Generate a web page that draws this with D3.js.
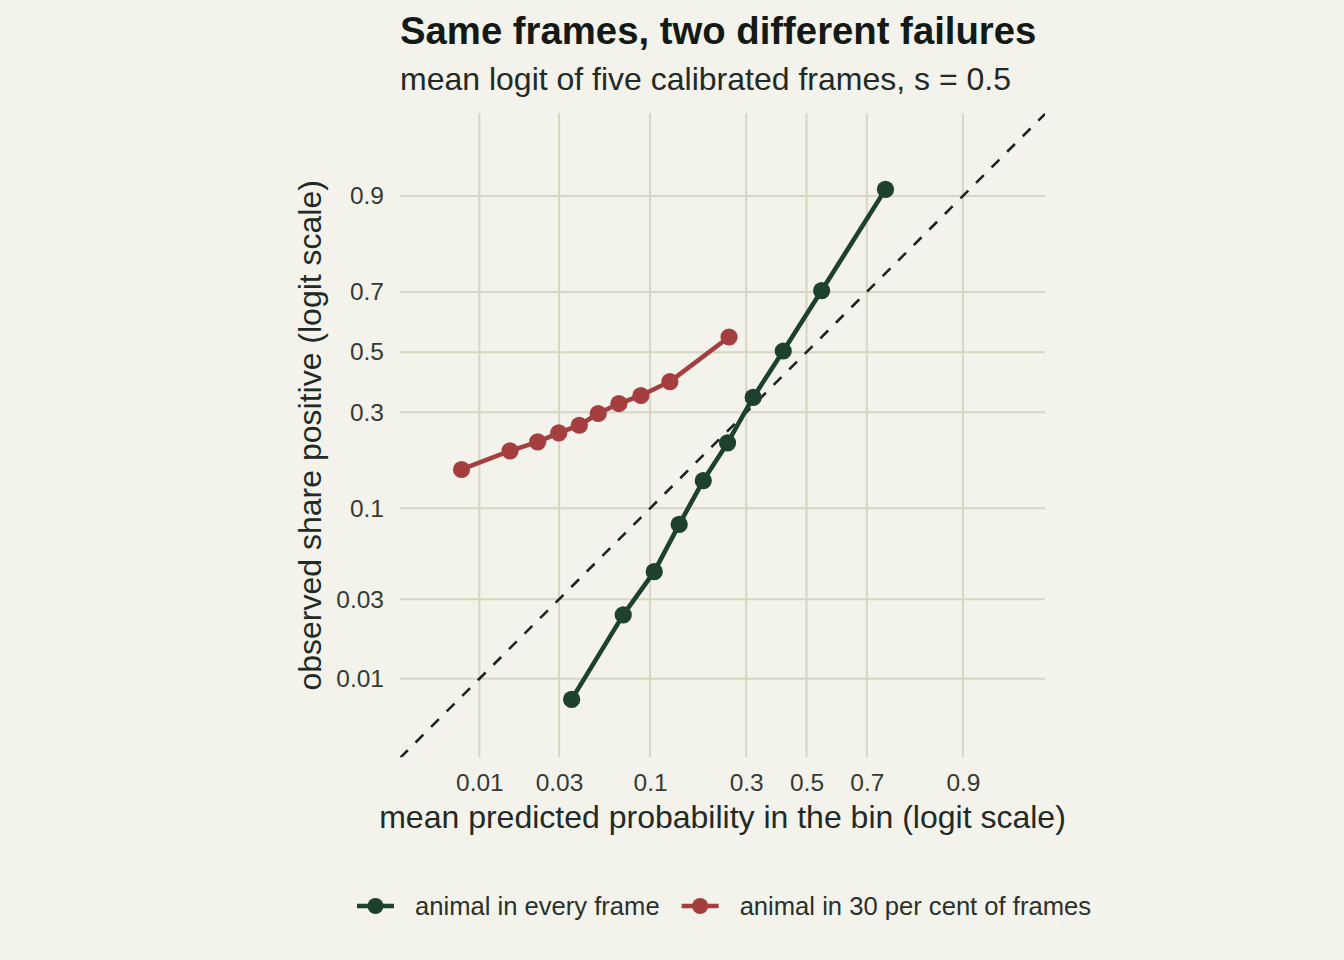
<!DOCTYPE html>
<html>
<head>
<meta charset="utf-8">
<script src="https://cdn.jsdelivr.net/npm/d3@7"></script>
<style>
  html, body { margin: 0; padding: 0; background: #f3f2eb; }
  svg { display: block; font-family: "Liberation Sans", Arial, Helvetica, sans-serif; }
</style>
</head>
<body>
<svg width="1344" height="960"></svg>
<script>
// DATA (probabilities)

var seriesNames = ["animal in every frame", "animal in 30 per cent of frames"],
    seriesColors = ["#1e412d", "#a53e3e"];

var everyPred = [0.0356, 0.0708, 0.1054, 0.1433, 0.190, 0.248, 0.321, 0.419, 0.553, 0.752],
    everyObs  = [0.0075, 0.0242, 0.0436, 0.0814, 0.141, 0.218, 0.346, 0.504, 0.704, 0.908];

var partPred = [0.0078, 0.0153, 0.0224, 0.0299, 0.0395, 0.0509, 0.0669, 0.089, 0.128, 0.252],
    partObs  = [0.161, 0.1996, 0.2205, 0.243, 0.2634, 0.2966, 0.3267, 0.352, 0.398, 0.553];

var tickProbs = [0.01, 0.03, 0.1, 0.3, 0.5, 0.7, 0.9];

// SETUP

function logit(p) { return Math.log(p / (1 - p)); }

var svg = d3.select("svg"),
    panel = { left: 400, right: 1045, top: 113.3, bottom: 757.3 };

var x = d3.scaleLinear().domain([-5.71, 3.35]).range([panel.left, panel.right]),
    y = d3.scaleLinear().domain([-5.70, 3.36]).range([panel.bottom, panel.top]);

var fmt = function (v) {
    var i = d3.minIndex(tickProbs, function (p) { return Math.abs(logit(p) - v); });
    return String(tickProbs[i]);
};

svg.append("rect")
    .attr("width", 1344).attr("height", 960)
    .attr("fill", "#f3f2eb");

svg.append("clipPath").attr("id", "clip")
  .append("rect")
    .attr("x", panel.left).attr("y", panel.top)
    .attr("width", panel.right - panel.left)
    .attr("height", panel.bottom - panel.top);

// GRID

var grid = svg.append("g").attr("stroke", "#d7d6c4").attr("stroke-width", 2);

grid.selectAll(".vx")
    .data(tickProbs)
  .enter().append("line")
    .attr("x1", function (d) { return x(logit(d)); })
    .attr("x2", function (d) { return x(logit(d)); })
    .attr("y1", panel.top).attr("y2", panel.bottom);

grid.selectAll(".hy")
    .data(tickProbs)
  .enter().append("line")
    .attr("y1", function (d) { return y(logit(d)); })
    .attr("y2", function (d) { return y(logit(d)); })
    .attr("x1", panel.left).attr("x2", panel.right);

// AXES

var xAxis = svg.append("g")
    .attr("transform", "translate(0," + panel.bottom + ")")
    .call(d3.axisBottom(x).tickValues(tickProbs.map(logit)).tickFormat(fmt).tickSize(0).tickPadding(16));

var yAxis = svg.append("g")
    .attr("transform", "translate(" + panel.left + ",0)")
    .call(d3.axisLeft(y).tickValues(tickProbs.map(logit)).tickFormat(fmt).tickSize(0).tickPadding(16));

[xAxis, yAxis].forEach(function (a) {
    a.select(".domain").remove();
    a.selectAll("text")
	.attr("fill", "#333b36")
	.style("font-size", "24.5px")
	.style("font-family", "'Liberation Sans', Arial, sans-serif");
});

// REFERENCE LINE y = x

var lo = Math.min(x.domain()[0], y.domain()[0]),
    hi = Math.max(x.domain()[1], y.domain()[1]);

svg.append("line")
    .attr("clip-path", "url(#clip)")
    .attr("x1", x(lo)).attr("y1", y(lo))
    .attr("x2", x(hi)).attr("y2", y(hi))
    .attr("stroke", "#1c2520")
    .attr("stroke-width", 2.6)
    .attr("stroke-dasharray", "11,11");

// SERIES

var series = [
    { name: seriesNames[0], color: seriesColors[0], pts: d3.zip(everyPred, everyObs) },
    { name: seriesNames[1], color: seriesColors[1], pts: d3.zip(partPred, partObs) }
];

var line = d3.line()
    .x(function (d) { return x(logit(d[0])); })
    .y(function (d) { return y(logit(d[1])); });

series.forEach(function (s) {
    var g = svg.append("g");
    g.append("path")
	.attr("d", line(s.pts))
	.attr("fill", "none")
	.attr("stroke", s.color)
	.attr("stroke-width", 4.6)
	.attr("stroke-linejoin", "round");
    g.selectAll("circle")
	.data(s.pts)
      .enter().append("circle")
	.attr("cx", function (d) { return x(logit(d[0])); })
	.attr("cy", function (d) { return y(logit(d[1])); })
	.attr("r", 8.6)
	.attr("fill", s.color);
});

// TITLES

svg.append("text")
    .attr("x", 400).attr("y", 44)
    .attr("fill", "#131a15")
    .style("font-size", "38.3px")
    .style("font-weight", "bold")
    .text("Same frames, two different failures");

svg.append("text")
    .attr("x", 400).attr("y", 90)
    .attr("fill", "#222a25")
    .style("font-size", "32px")
    .text("mean logit of five calibrated frames, s = 0.5");

svg.append("text")
    .attr("x", (panel.left + panel.right) / 2).attr("y", 828)
    .attr("text-anchor", "middle")
    .attr("fill", "#222a25")
    .style("font-size", "32px")
    .text("mean predicted probability in the bin (logit scale)");

svg.append("text")
    .attr("transform", "translate(321," + (panel.top + panel.bottom) / 2 + ") rotate(-90)")
    .attr("text-anchor", "middle")
    .attr("fill", "#222a25")
    .style("font-size", "32px")
    .text("observed share positive (logit scale)");

// LEGEND

var legend = svg.append("g"),
    keyW = 37, gapKey = 21, gapItem = 22, cx = 724, ly = 906;

var items = legend.selectAll(".item")
    .data(series)
  .enter().append("g");

items.append("line")
    .attr("x1", 0).attr("x2", keyW)
    .attr("y1", 0).attr("y2", 0)
    .attr("stroke", function (d) { return d.color; })
    .attr("stroke-width", 4.6);

items.append("circle")
    .attr("cx", keyW / 2).attr("cy", 0).attr("r", 8)
    .attr("fill", function (d) { return d.color; });

items.append("text")
    .attr("x", keyW + gapKey).attr("y", 0).attr("dy", "0.35em")
    .attr("fill", "#2a312c")
    .style("font-size", "25.6px")
    .text(function (d) { return d.name; });

var widths = [];
items.each(function () { widths.push(this.getBBox().width); });
var total = d3.sum(widths) + gapItem * (widths.length - 1),
    pos = cx - total / 2;
items.attr("transform", function (d, i) {
    var t = "translate(" + pos + "," + ly + ")";
    pos += widths[i] + gapItem;
    return t;
});
</script>
</body>
</html>
